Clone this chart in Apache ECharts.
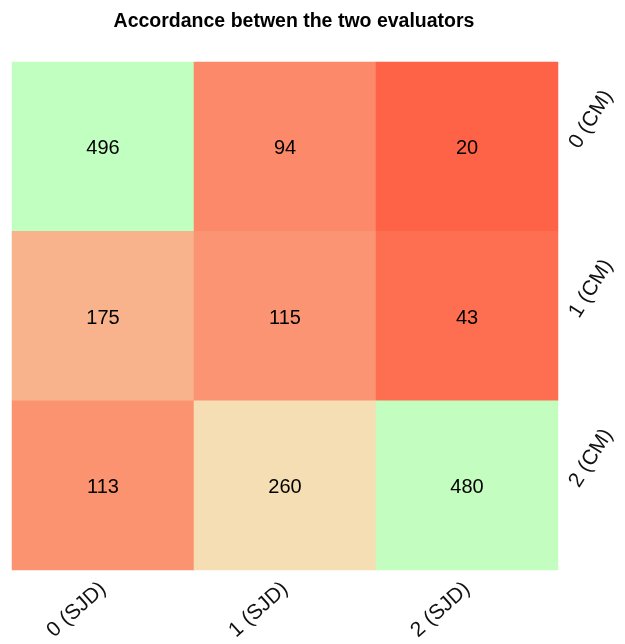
<!DOCTYPE html>
<html><head><meta charset="utf-8">
<script src="https://cdn.jsdelivr.net/npm/echarts@6/dist/echarts.min.js"></script>
<style>html,body{margin:0;padding:0;background:#fff}#c{width:625px;height:644px}</style>
</head><body><div id="c"></div>
<script>
const xCategories = ['0 (SJD)', '1 (SJD)', '2 (SJD)'];
const yCategories = ['0 (CM)', '1 (CM)', '2 (CM)'];
// rows: CM 0..2, columns: SJD 0..2
const row0 = [496, 94, 20];
const row1 = [175, 115, 43];
const row2 = [113, 260, 480];
const rows = [row0, row1, row2];

const cells = [];
rows.forEach((r, yi) => r.forEach((v, xi) => cells.push([xi, yi, v])));
const vals = cells.map(d => d[2]);

const chart = echarts.init(document.getElementById('c'));
chart.setOption({
  animation: false,
  title: {
    text: 'Accordance betwen the two evaluators',
    left: 289, top: 7, textAlign: 'center',
    textStyle: { fontFamily: 'Liberation Sans, Arial', fontSize: 19.5, fontWeight: 'bold', color: '#000' }
  },
  grid: { left: 12, right: 67, top: 62, bottom: 74 },
  xAxis: {
    type: 'category', data: xCategories, position: 'bottom',
    axisLine: { show: false }, axisTick: { show: false }, splitLine: { show: false },
    axisLabel: { rotate: 42, fontSize: 21, color: '#111', fontFamily: 'Liberation Sans, Arial', margin: 16 }
  },
  yAxis: {
    type: 'category', data: yCategories, position: 'right', inverse: true,
    axisLine: { show: false }, axisTick: { show: false }, splitLine: { show: false },
    axisLabel: { rotate: 58, fontSize: 21, color: '#111', fontFamily: 'Liberation Sans, Arial', margin: 16 }
  },
  visualMap: {
    show: false, type: 'continuous',
    min: Math.min(...vals), max: Math.max(...vals), dimension: 2,
    inRange: { color: ['#FF6347', '#F5DEB3', '#C1FFC1'] }
  },
  series: [
    {
      type: 'heatmap', data: cells,
      label: { show: true, fontSize: 20, color: '#000', fontFamily: 'Liberation Sans, Arial', offset: [0, 2] },
      itemStyle: { borderWidth: 0 }, emphasis: { disabled: true }
    }
  ]
});
</script></body></html>
